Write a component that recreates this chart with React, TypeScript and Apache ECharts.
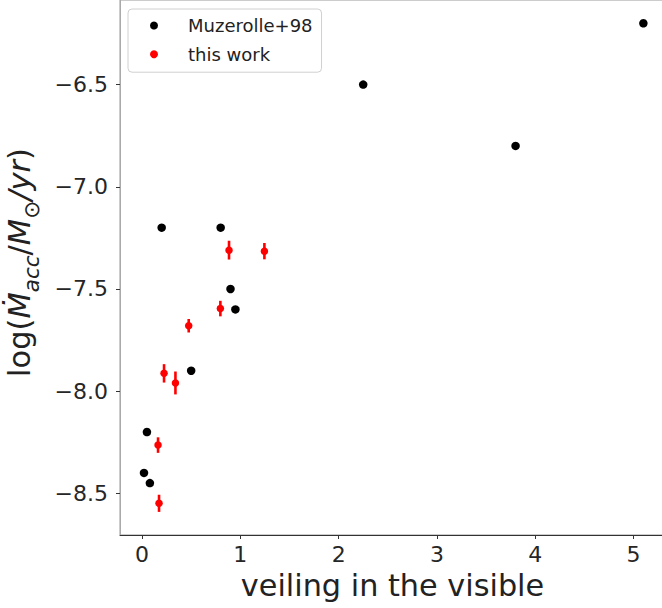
import React, { useEffect, useRef } from "react";
import * as echarts from "echarts";

// Muzerolle+98 sample: veiling vs log accretion rate
const muzVeiling = [0.02, 0.05, 0.08, 0.2, 0.5, 0.8, 0.9, 0.95, 2.25, 3.8, 5.1];
const muzLogMacc = [-8.4, -8.2, -8.45, -7.2, -7.9, -7.2, -7.5, -7.6, -6.5, -6.8, -6.2];

// this work: veiling, log accretion rate and its uncertainty
const workVeiling = [0.885, 1.245, 0.797, 0.475, 0.224, 0.34, 0.163, 0.173];
const workLogMacc = [-7.31, -7.315, -7.596, -7.68, -7.913, -7.96, -8.264, -8.549];
const workErr = [0.046, 0.04, 0.038, 0.033, 0.045, 0.056, 0.038, 0.042];

const xTicks = [0, 1, 2, 3, 4, 5];
const yTicks = [-8.5, -8, -7.5, -7, -6.5];

const FONT = "DejaVu Sans";

const fmtY = (v: number) => {
  const s = Math.abs(v).toFixed(1);
  return (v < 0 ? "\u2212" : "") + s;
};

export default function App() {
  const ref = useRef<HTMLDivElement>(null);

  useEffect(() => {
    if (!ref.current) return;
    const chart = echarts.init(ref.current, null, { renderer: "svg" });

    const option: any = {
      animation: false,
      backgroundColor: "#ffffff",
      grid: {
        left: 120,
        top: 0,
        width: 545,
        bottom: 73,
        show: true,
        borderColor: "#999999",
        borderWidth: 1,
        containLabel: false,
        outerBoundsMode: "none",
      },
      legend: {
        orient: "vertical",
        left: 128,
        top: 9,
        padding: [7.5, 9, 9, 22],
        itemWidth: 8,
        itemHeight: 8,
        itemGap: 10.7,
        borderColor: "#d0d0d0",
        borderWidth: 1,
        borderRadius: 4,
        backgroundColor: "rgba(255,255,255,0.8)",
        data: [
          { name: "Muzerolle+98", icon: "circle" },
          { name: "this work", icon: "circle" },
        ],
        formatter: (name: string) => `{gap| }{t|${name}}`,
        textStyle: {
          fontFamily: FONT,
          fontSize: 18,
          lineHeight: 17,
          color: "#222222",
          rich: {
            gap: { width: 25, fontSize: 18, lineHeight: 17 },
            t: { fontFamily: FONT, fontSize: 18, lineHeight: 17, color: "#222222" },
          },
        },
      },
      xAxis: {
        type: "value",
        min: -0.224,
        max: 5.32,
        name: "veiling in the visible",
        nameLocation: "middle",
        nameGap: 35,
        nameTextStyle: { fontFamily: FONT, fontSize: 30.3, color: "#222222" },
        splitLine: { show: false },
        axisLine: { show: true, onZero: false, lineStyle: { color: "#333333", width: 1 } },
        axisTick: {
          show: true,
          length: 4,
          customValues: xTicks,
          lineStyle: { color: "#333333" },
        },
        axisLabel: {
          customValues: xTicks,
          fontFamily: FONT,
          fontSize: 22,
          color: "#262626",
          margin: 8,
          formatter: (v: number) => String(v),
        },
      },
      yAxis: {
        type: "value",
        min: -8.704,
        max: -6.086,
        name: "{a|log(}{i|\u1E40}{s|acc}{a|/}{i|M}{s|\u2299}{i|/yr}{a|)}",
        nameLocation: "middle",
        nameRotate: 90,
        nameGap: 78,
        nameTextStyle: {
          fontFamily: FONT,
          fontSize: 30.5,
          color: "#222222",
          padding: [0, 0, 0, 10],
          rich: {
            a: { fontFamily: FONT, fontSize: 30.5, lineHeight: 38, verticalAlign: "top", color: "#222222" },
            i: { fontFamily: FONT, fontSize: 30.5, lineHeight: 38, verticalAlign: "top", fontStyle: "italic", color: "#222222" },
            s: { fontFamily: FONT, fontSize: 21.5, lineHeight: 21, verticalAlign: "bottom", fontStyle: "italic", color: "#222222" },
          },
        },
        splitLine: { show: false },
        axisLine: { show: true, onZero: false, lineStyle: { color: "#aaaaaa", width: 1 } },
        axisTick: {
          show: true,
          length: 4,
          customValues: yTicks,
          lineStyle: { color: "#333333" },
        },
        axisLabel: {
          customValues: yTicks,
          fontFamily: FONT,
          fontSize: 22,
          color: "#262626",
          margin: 12,
          formatter: (v: number) => fmtY(v),
        },
      },
      series: [
        {
          name: "Muzerolle+98",
          type: "scatter",
          symbol: "circle",
          symbolSize: 8.5,
          itemStyle: { color: "#000000", opacity: 1 },
          data: muzVeiling.map((x, i) => [x, muzLogMacc[i]]),
          z: 3,
        },
        {
          name: "this work errors",
          type: "custom",
          data: workVeiling.map((x, i) => [x, workLogMacc[i], workErr[i]]),
          renderItem: (_params: any, api: any) => {
            const x = api.value(0);
            const y = api.value(1);
            const e = api.value(2);
            const p1 = api.coord([x, y + e]);
            const p2 = api.coord([x, y - e]);
            return {
              type: "line",
              shape: { x1: p1[0], y1: p1[1], x2: p2[0], y2: p2[1] },
              style: { stroke: "#ff0000", lineWidth: 2.6 },
            };
          },
          z: 2,
        },
        {
          name: "this work",
          type: "scatter",
          symbol: "circle",
          symbolSize: 7.5,
          itemStyle: { color: "#ff0000", opacity: 1 },
          data: workVeiling.map((x, i) => [x, workLogMacc[i]]),
          z: 3,
        },
      ],
    };

    chart.setOption(option);
    return () => chart.dispose();
  }, []);

  return (
    <div
      ref={ref}
      style={{ position: "fixed", left: 0, top: 0, width: 662, height: 608, background: "#fff" }}
    />
  );
}
